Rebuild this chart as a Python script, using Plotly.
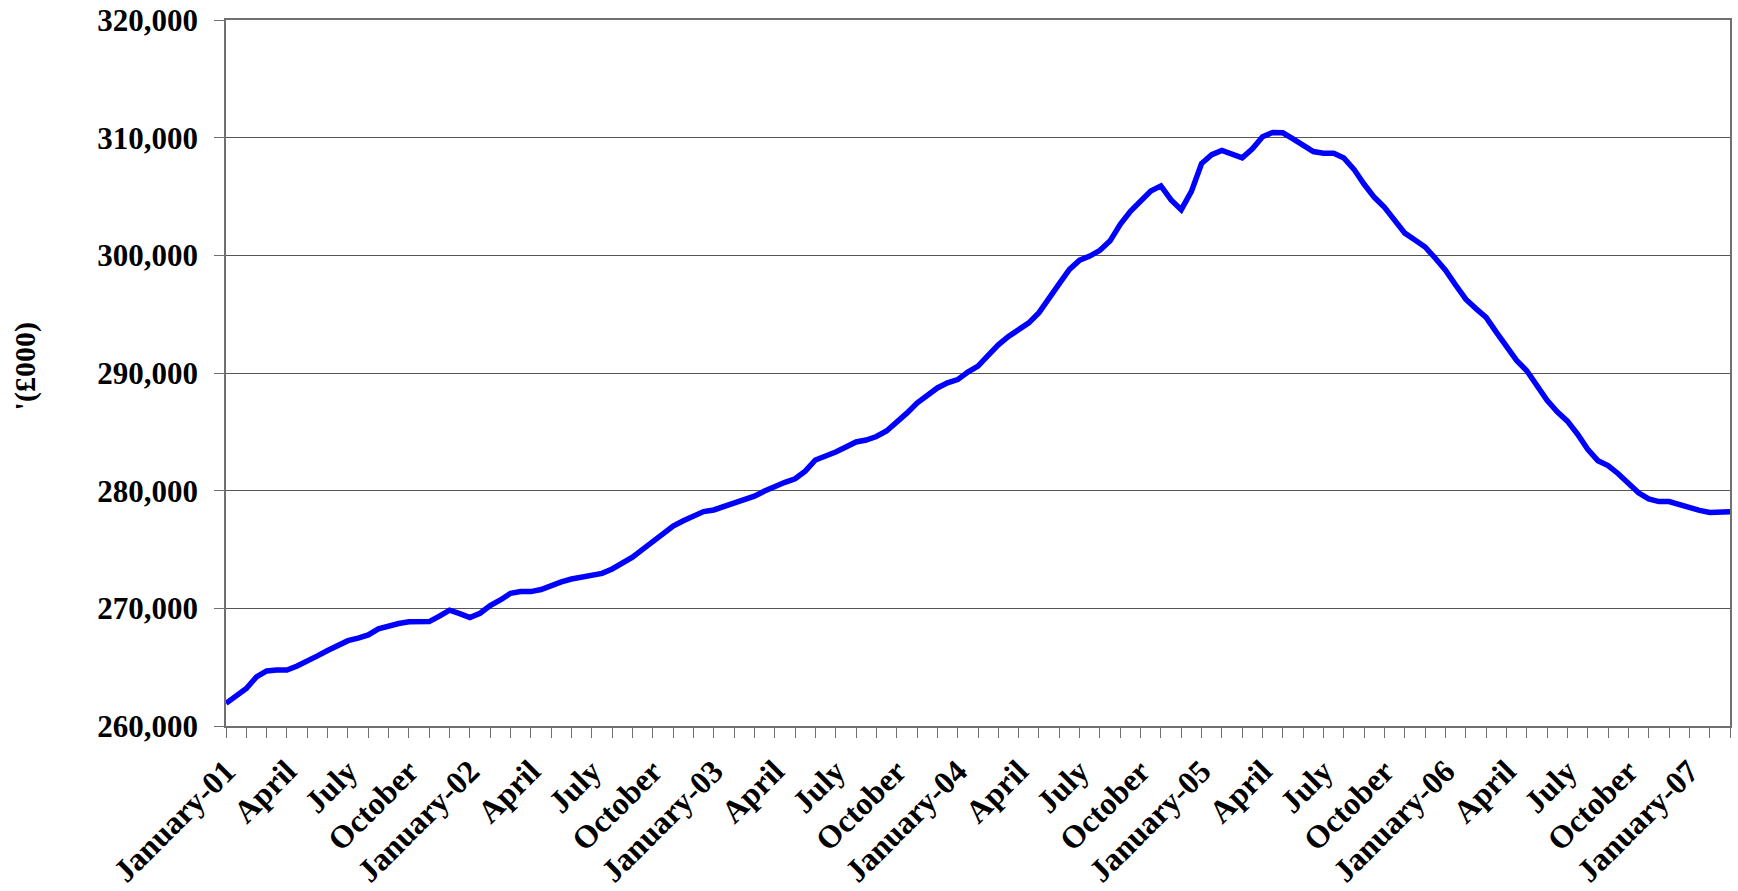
import plotly.graph_objects as go

# Values in £000, read at half-month steps from January 2001 to March 2007
values = [
    261930, 262530, 263190, 264180, 264680, 264760, 264760, 265100, 265480, 265960,
    266420, 266860, 267250, 267470, 267740, 268250, 268540, 268710, 268850, 268870,
    268870, 269330, 269840, 269550, 269210, 269580, 270230, 270710, 271280, 271420,
    271420, 271600, 271970, 272240, 272490, 272620, 272770, 272970, 273350, 273850,
    274350, 275010, 275690, 276350, 276990, 277440, 277880, 278220, 278360, 278670,
    278960, 279240, 279530, 279970, 280400, 280710, 281010, 281660, 282610, 282930,
    283280, 283710, 284140, 284300, 284600, 285070, 285770, 286590, 287450, 288100,
    288730, 289160, 289440, 290080, 290580, 291490, 292390, 293110, 293710, 294260,
    295130, 296290, 297600, 298810, 299590, 299940, 300430, 301230, 302640, 303750,
    304620, 305460, 305900, 304710, 303880, 305440, 307800, 308560, 308920, 308660,
    308280, 309050, 310080, 310440, 310410, 309900, 309300, 308820, 308680, 308670,
    308280, 307310, 306040, 304930, 304080, 302970, 301890, 301310, 300710, 299750,
    298740, 297480, 296270, 295470, 294730, 293470, 292200, 291070, 290190, 288970,
    287680, 286710, 285910, 284800, 283520, 282550, 282130, 281440, 280630, 279820,
    279300, 279070, 279070, 278810, 278520, 278330, 278150, 278130, 278200,
]

# Monthly tick labels (every month ticked, every third labelled)
month_names = ["January", "February", "March", "April", "May", "June", "July",
               "August", "September", "October", "November", "December"]
years = ["01", "02", "03", "04", "05", "06", "07"]
n_months = 75  # January-01 .. March-07

tick_labels = []
for i in range(n_months):
    m = i % 12
    y = years[i // 12]
    if m == 0:
        tick_labels.append(f"January-{y}")
    elif m % 3 == 0:
        tick_labels.append(month_names[m])
    else:
        tick_labels.append("")

x = [i / 2 for i in range(len(values))]

font_family = "Liberation Serif, Times New Roman, serif"

fig = go.Figure()
fig.add_trace(go.Scatter(
    x=x, y=values, mode="lines",
    line=dict(color="#0000FF", width=5.5),
    showlegend=False, hoverinfo="skip",
))

fig.update_layout(
    width=1738, height=891,
    margin=dict(l=226, r=8, t=20, b=165, autoexpand=False),
    paper_bgcolor="white", plot_bgcolor="white",
    annotations=[dict(
        text="'(£000)", xref="paper", yref="paper",
        x=-0.134, y=0.51, xanchor="center", yanchor="middle",
        textangle=-90, showarrow=False,
        font=dict(family=font_family, size=30, color="black", weight="bold"),
    )],
)

fig.update_xaxes(
    range=[0, n_months - 1],
    tickmode="array",
    tickvals=list(range(n_months)),
    ticktext=tick_labels,
    tickangle=-45,
    ticks="outside", ticklen=10, tickcolor="#707070", tickwidth=1,
    showline=True, linecolor="#707070", linewidth=1.5, mirror=True,
    showgrid=False, zeroline=False,
    tickfont=dict(family=font_family, size=32, color="black", weight="bold"),
    ticklabelstandoff=2,
    automargin=False,
)

fig.update_yaxes(
    range=[260000, 320000],
    tick0=260000, dtick=10000,
    tickformat=",d",
    ticks="outside", ticklen=10, tickcolor="#707070", tickwidth=1,
    showline=True, linecolor="#707070", linewidth=1.5, mirror=True,
    showgrid=True, gridcolor="#555555", gridwidth=1,
    zeroline=False,
    tickfont=dict(family=font_family, size=31, color="black", weight="bold"),
    ticklabelstandoff=10,
    automargin=False,
)

fig.write_html("out.html")
